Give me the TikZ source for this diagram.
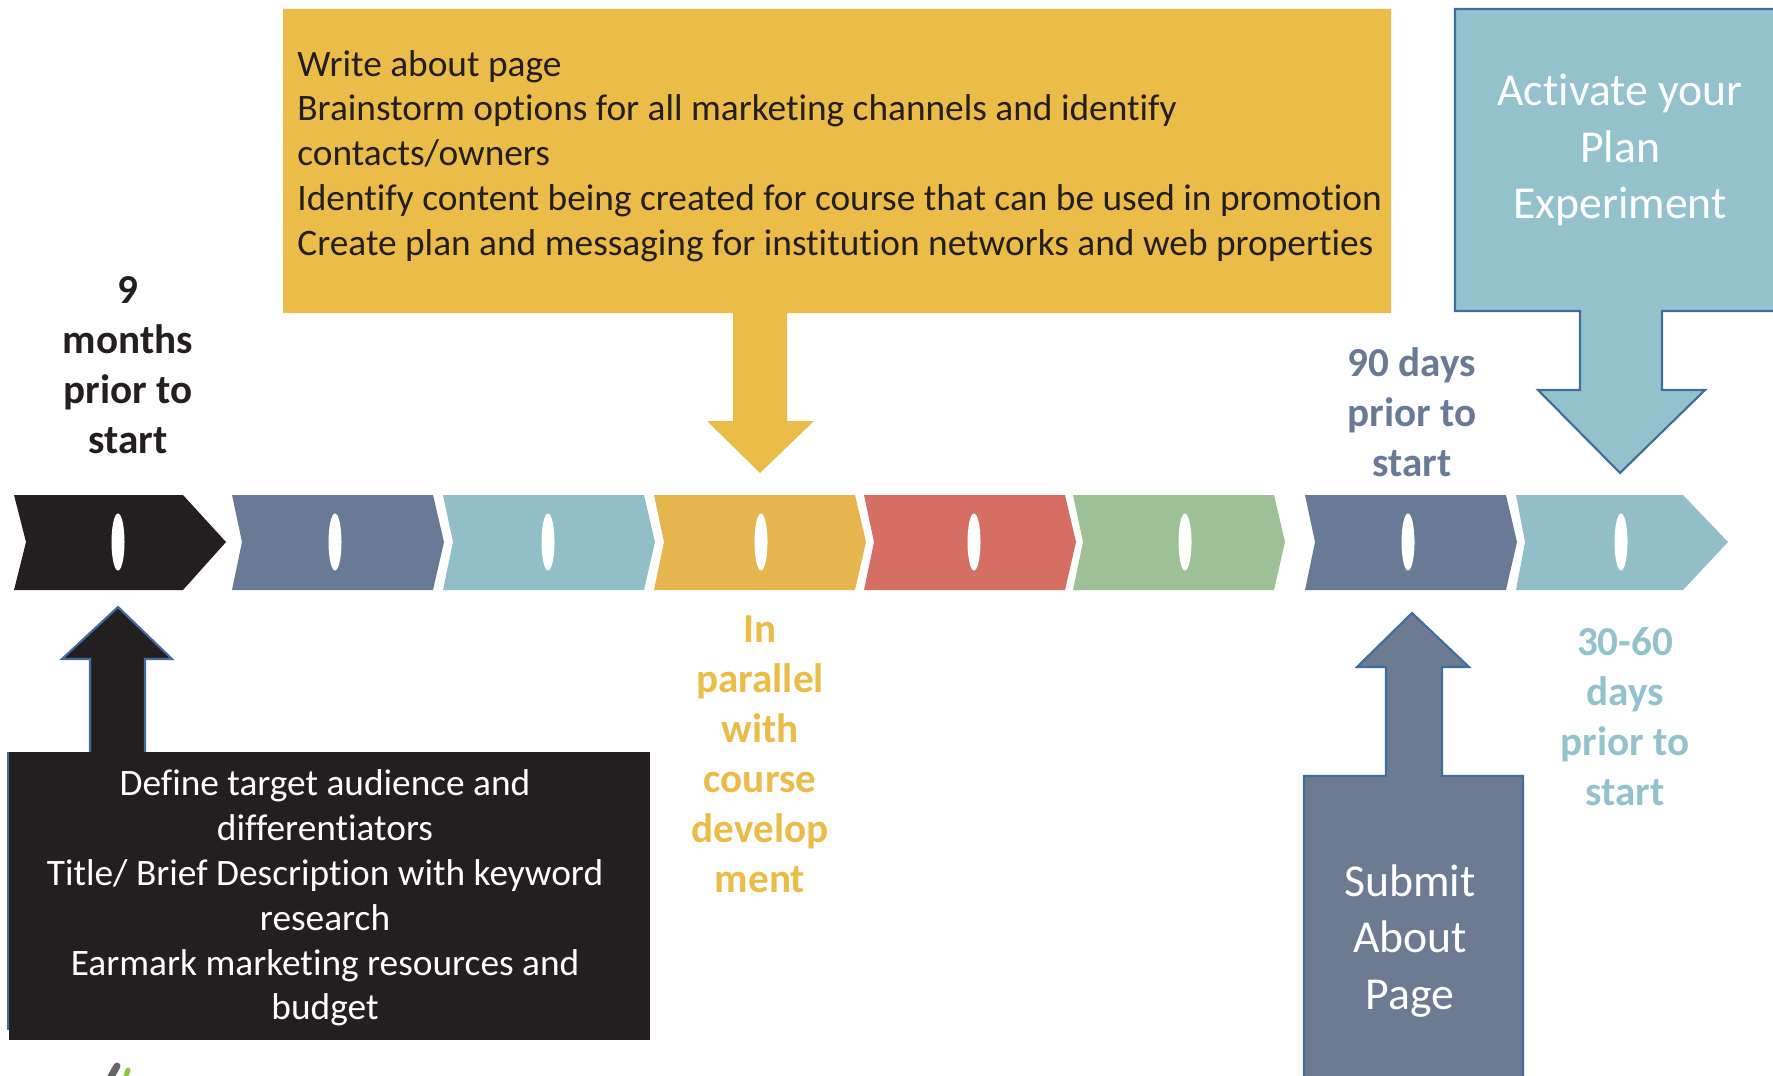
\documentclass[tikz,border=0pt]{standalone}
\usepackage{fontspec}
\setmainfont[Ligatures=NoCommon]{Carlito}
\begin{document}
\begin{tikzpicture}[x=0.01cm, y=-0.01cm,
    steplabel/.style={font=\bfseries\fontsize{11.7}{14.2}\selectfont, align=center},
    boxtext/.style={font=\fontsize{10.62}{12.75}\selectfont},
    bigtext/.style={font=\fontsize{13}{16.1}\selectfont, text=white, align=center}]
    % Define colors
    \definecolor{inkcolor}{RGB}{35, 31, 32}
    \definecolor{slatecolor}{RGB}{104, 122, 150}
    \definecolor{tealcolor}{RGB}{146, 190, 200}
    \definecolor{goldcolor}{RGB}{230, 181, 78}
    \definecolor{redcolor}{RGB}{214, 111, 99}
    \definecolor{greencolor}{RGB}{157, 192, 150}
    \definecolor{boxgold}{RGB}{236, 188, 72}
    \definecolor{edgeblue}{RGB}{65, 108, 160}
    \definecolor{skycolor}{RGB}{148, 194, 204}
    \definecolor{submitcolor}{RGB}{108, 123, 146}
    \definecolor{logogreen}{RGB}{140, 198, 63}

    \useasboundingbox (0, 0) rectangle (1773, 1076);

    % Timeline chevrons
    \def\chevw{201}
    \fill[inkcolor] (14, 495) -- (183, 495) -- (226, 542) -- (183, 590) -- (14, 590) -- (26, 542) -- cycle;
    \foreach \x/\col in {232/slatecolor, 443/tealcolor, 654/goldcolor, 864/redcolor, 1073/greencolor, 1305/slatecolor} {
        \fill[\col] (\x, 495) -- (\x+\chevw, 495) -- (\x+\chevw+11, 542) -- (\x+\chevw, 590) -- (\x, 590) -- (\x+10, 542) -- cycle;
    }
    \fill[tealcolor] (1516, 495) -- (1683, 495) -- (1728, 542) -- (1683, 590) -- (1516, 590) -- (1525, 542) -- cycle;

    % Ovals
    \foreach \o in {118, 335, 548, 761, 974, 1185, 1408, 1621} {
        \fill[white] (\o, 542) ellipse (0.065cm and 0.285cm);
    }

    % Planning callout
    \fill[boxgold] (283, 9) -- (1391, 9) -- (1391, 313) -- (787, 313) -- (787, 421) -- (814, 421) -- (760, 473) -- (707, 421) -- (733, 421) -- (733, 313) -- (283, 313) -- cycle;
    \node[boxtext, text=inkcolor, anchor=west, align=left] (plan) at (285, 156) {Write about page\\
        Brainstorm options for all marketing channels and identify\\
        contacts/owners\\
        Identify content being created for course that can be used in promotion\\
        Create plan and messaging for institution networks and web properties};

    % Activate callout
    \filldraw[fill=skycolor, draw=edgeblue, line width=0.6pt] (1455, 9) -- (1785, 9) -- (1785, 311) -- (1662, 311) -- (1662, 390) -- (1705, 390) -- (1620, 473) -- (1538, 390) -- (1580, 390) -- (1580, 311) -- (1455, 311) -- cycle;
    \node[bigtext] (activate) at (1620, 150) {Activate your\\Plan\\Experiment};

    % Define callout
    \filldraw[fill=inkcolor, draw=edgeblue, line width=0.6pt] (90, 760) -- (90, 659) -- (62, 659) -- (118, 607) -- (172, 659) -- (145, 659) -- (145, 760) -- cycle;
    \fill[inkcolor] (9, 752) rectangle (650, 1040);
    \draw[edgeblue, line width=0.4pt] (8, 752) -- (8, 1030);
    \node[boxtext, text=white, align=center] (define) at (325, 898) {Define target audience and\\
        differentiators\\
        Title/ Brief Description with keyword\\
        research\\
        Earmark marketing resources and\\
        budget};

    % Submit callout
    \filldraw[fill=submitcolor, draw=edgeblue, line width=0.6pt] (1304, 1090) -- (1304, 776) -- (1386, 776) -- (1386, 667) -- (1357, 667) -- (1412, 613) -- (1469, 667) -- (1442, 667) -- (1442, 776) -- (1523, 776) -- (1523, 1090);
    \node[bigtext] (submit) at (1410, 941) {Submit\\About\\Page};

    % Milestone labels
    \node[steplabel, text=inkcolor] (ninemonths) at (128, 365) {9\\months\\prior to\\start};
    \node[steplabel, text=slatecolor] (ninetydays) at (1412, 412) {90 days\\prior to\\start};
    \node[steplabel, text=skycolor] (thirtysixty) at (1625, 717) {30-60\\days\\prior to\\start};
    \node[steplabel, text=boxgold] (parallel) at (760, 754) {In\\parallel\\with\\course\\develop\\ment};

    % Logo fragment
    \draw[line width=0.07cm, line cap=round, gray!80!black] (117, 1066) -- (108, 1082);
    \draw[line width=0.05cm, line cap=round, logogreen] (128, 1070) -- (124, 1082);
\end{tikzpicture}
\end{document}
